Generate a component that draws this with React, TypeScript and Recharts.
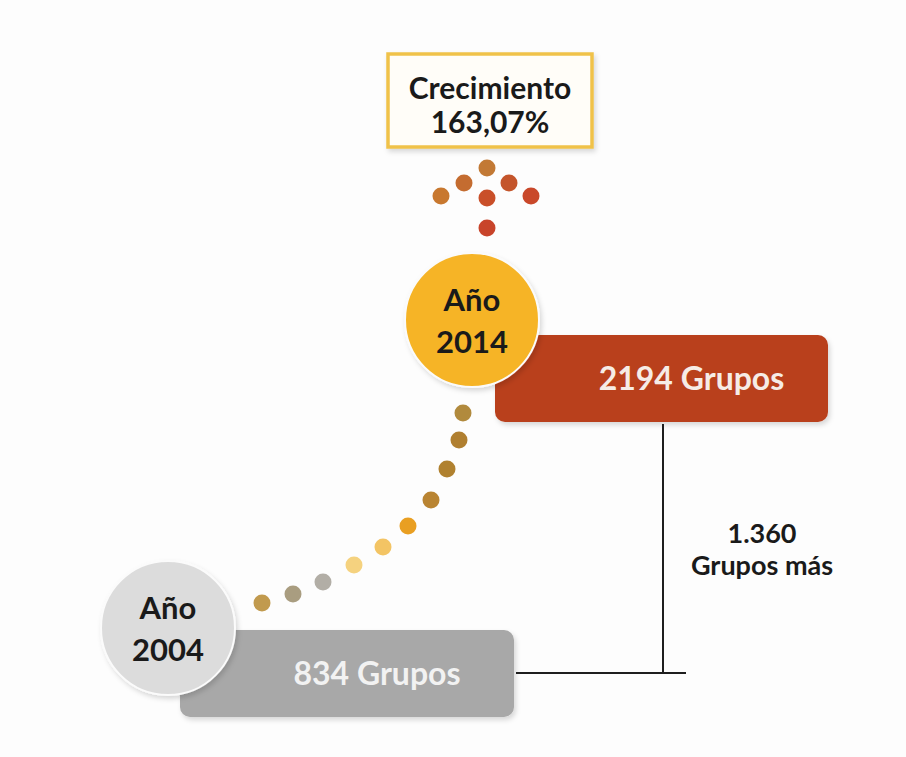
import React from 'react';
import { ComposedChart, XAxis, YAxis, Scatter, Cell, ReferenceArea, ReferenceLine, ReferenceDot } from 'recharts';

// data
const years = [2004, 2014];
const groups = [834, 2194];
const unitLabel = 'Grupos';
const yearWord = 'Año';
const growthTitle = 'Crecimiento';
const moreLabel = 'Grupos más';

// layout (chart units = pixels of the 906x757 canvas)
const yearCenters = [{ x: 168, y: 628 }, { x: 472, y: 320 }];
const barBoxes = [
  { x1: 180, x2: 514, y1: 630, y2: 717 },
  { x1: 495, x2: 828, y1: 335, y2: 422 },
];
const trail = [
  { x: 262, y: 603 }, { x: 293, y: 594 }, { x: 323, y: 582 }, { x: 354, y: 565 },
  { x: 383, y: 547 }, { x: 408, y: 526 }, { x: 431, y: 500 }, { x: 447, y: 469 },
  { x: 459, y: 440 }, { x: 463, y: 413 },
];
const trailColors = ['#c19a4e', '#a99d80', '#b2aea6', '#f5d27f', '#f3c464', '#e99f22', '#b98432', '#b0812f', '#b07f30', '#b18a3d'];
const arrow = [
  { x: 487, y: 168 }, { x: 464, y: 183 }, { x: 509, y: 183 }, { x: 441, y: 196 },
  { x: 487, y: 198 }, { x: 531, y: 196 }, { x: 487, y: 228 },
];
const arrowColors = ['#c27935', '#c46c30', '#c4552b', '#c8782f', '#c94f29', '#c9482a', '#c8442a'];

const yearColors = ['#dcdcdc', '#f6b425'];
const barColors = ['#a8a8a8', '#b9401f'];
const barText = ['#f2f2f2', '#f6ece6'];
const font = 'Lato, "Open Sans", sans-serif';

const fmt = (n: number) => n.toLocaleString('de-DE');
const growth = (((groups[1] - groups[0]) / groups[0]) * 100).toFixed(2).replace('.', ',') + '%';

const yearData = years.map((year, i) => ({ ...yearCenters[i], year, i }));

const YearShape = (props: any) => {
  const { cx, cy, payload } = props;
  return (
    <g>
      <circle cx={cx} cy={cy} r={67} fill={yearColors[payload.i]} stroke="#fbfbfb" strokeWidth={2} filter="url(#soft)" />
      <text x={cx} y={cy - 9} textAnchor="middle" fontFamily={font} fontWeight={700} fontSize={31} fill="#1a1a1a">{yearWord}</text>
      <text x={cx} y={cy + 33} textAnchor="middle" fontFamily={font} fontWeight={700} fontSize={31} fill="#1a1a1a">{payload.year}</text>
    </g>
  );
};

const Dot = (props: any) => <circle cx={props.cx} cy={props.cy} r={8.5} fill={props.fill} />;

const barShape = (i: number) => (p: any) => (
  <g>
    <rect x={p.x} y={p.y} width={p.width} height={p.height} rx={10} fill={barColors[i]} filter="url(#soft)" />
    <text x={p.x + p.width / 2 + 30} y={p.y + p.height / 2 + 11} textAnchor="middle" fontFamily={font} fontWeight={700} fontSize={32} fill={barText[i]}>
      {groups[i]} {unitLabel}
    </text>
  </g>
);

const titleShape = (p: any) => (
  <g>
    <rect x={p.x} y={p.y} width={p.width} height={p.height} fill="#fffdf8" stroke="#f0c24a" strokeWidth={3.5} filter="url(#soft)" />
    <text x={p.x + p.width / 2} y={p.y + 45} textAnchor="middle" fontFamily={font} fontWeight={700} fontSize={30} fill="#1a1a1a">{growthTitle}</text>
    <text x={p.x + p.width / 2} y={p.y + 79} textAnchor="middle" fontFamily={font} fontWeight={700} fontSize={30} fill="#1a1a1a">{growth}</text>
  </g>
);

const diffShape = (p: any) => (
  <g>
    <text x={p.cx} y={p.cy} textAnchor="middle" fontFamily={font} fontWeight={700} fontSize={27} fill="#1a1a1a">{fmt(groups[1] - groups[0])}</text>
    <text x={p.cx} y={p.cy + 32} textAnchor="middle" fontFamily={font} fontWeight={700} fontSize={27} fill="#1a1a1a">{moreLabel}</text>
  </g>
);

export default function App() {
  return (
    <div style={{ position: 'absolute', left: 0, top: 0, width: 906, height: 757, background: '#fdfdfd' }}>
      <ComposedChart width={906} height={757} margin={{ top: 0, right: 0, bottom: 0, left: 0 }}>
        <defs>
          <filter id="soft" x="-20%" y="-20%" width="140%" height="140%">
            <feDropShadow dx={2} dy={3} stdDeviation={2.5} floodColor="#000" floodOpacity={0.15} />
          </filter>
        </defs>
        <XAxis type="number" dataKey="x" domain={[0, 906]} hide />
        <YAxis type="number" dataKey="y" domain={[0, 757]} reversed hide />
        <ReferenceArea x1={388} x2={592} y1={54} y2={147} shape={titleShape} />
        <ReferenceArea {...barBoxes[0]} shape={barShape(0)} />
        <ReferenceArea {...barBoxes[1]} shape={barShape(1)} />
        <ReferenceLine segment={[{ x: 663, y: 424 }, { x: 663, y: 673 }]} stroke="#1e1e1e" strokeWidth={2} />
        <ReferenceLine segment={[{ x: 516, y: 673 }, { x: 686, y: 673 }]} stroke="#1e1e1e" strokeWidth={2} />
        <ReferenceDot x={762} y={543} r={0} shape={diffShape} />
        <Scatter data={arrow} shape={Dot} isAnimationActive={false}>
          {arrow.map((_, i) => <Cell key={i} fill={arrowColors[i]} />)}
        </Scatter>
        <Scatter data={trail} shape={Dot} isAnimationActive={false}>
          {trail.map((_, i) => <Cell key={i} fill={trailColors[i]} />)}
        </Scatter>
        <Scatter data={yearData} shape={YearShape} isAnimationActive={false} />
      </ComposedChart>
    </div>
  );
}
